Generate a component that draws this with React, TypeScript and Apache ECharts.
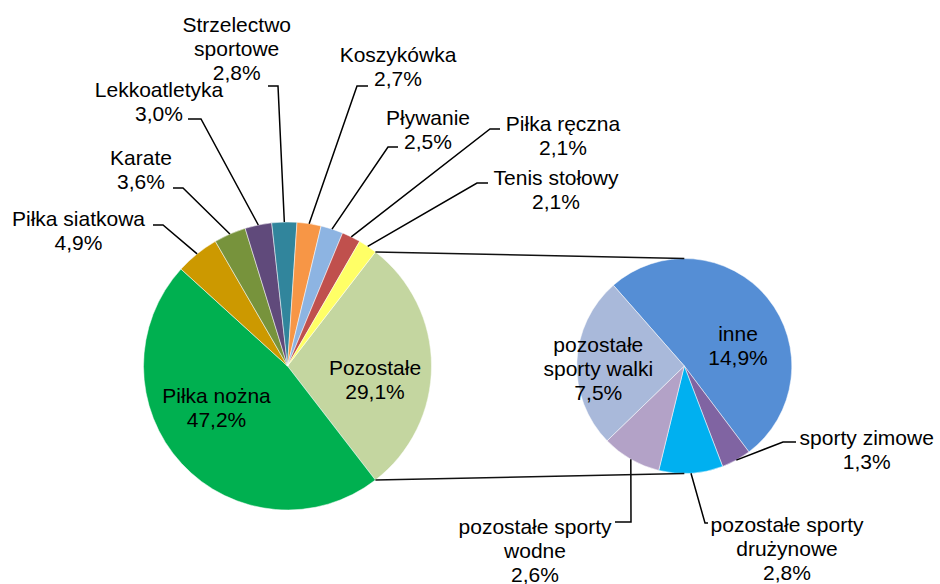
import React, { useEffect, useRef } from "react";
import * as echarts from "echarts";

// ---- data ----
const mainNames = [
  "Pozostałe",
  "Piłka nożna",
  "Piłka siatkowa",
  "Karate",
  "Lekkoatletyka",
  "Strzelectwo sportowe",
  "Koszykówka",
  "Pływanie",
  "Piłka ręczna",
  "Tenis stołowy",
];
const mainValues = [29.1, 47.2, 4.9, 3.6, 3.0, 2.8, 2.7, 2.5, 2.1, 2.1];
const subNames = [
  "inne",
  "sporty zimowe",
  "pozostałe sporty drużynowe",
  "pozostałe sporty wodne",
  "pozostałe sporty walki",
];
const subValues = [14.9, 1.3, 2.8, 2.6, 7.5];

// ---- styles / layout ----
const mainColors = ["#C4D6A0", "#00B050", "#CC9900", "#77933C", "#604A7B", "#31859C", "#F79646", "#8DB4E2", "#C0504D", "#FFFF66"];
const subColors = ["#558ED5", "#8064A2", "#00B0F0", "#B3A2C7", "#A9B9DA"];

const MAIN = { cx: 287.5, cy: 366, r: 144 };
const SUB = { cx: 684.3, cy: 366, r: 107.5, startAngle: 131.3 };
const FONT = "'Liberation Sans', Arial, sans-serif";
const FS = 21;
const LH = 24;

type Lay = { x: number; y: number; wrap?: "first" | "last"; lead?: number[][] };
// label block centres and leader anchor points (label side, elbow)
const mainLayout: Lay[] = [
  { x: 375, y: 379 },
  { x: 216.5, y: 407 },
  { x: 78.5, y: 230, lead: [[153, 225], [163, 225]] },
  { x: 141, y: 169, lead: [[173, 188], [183, 188]] },
  { x: 159, y: 101, lead: [[188, 119], [201, 119]] },
  { x: 236.7, y: 48.5, wrap: "first", lead: [[268, 86], [278, 86]] },
  { x: 398, y: 66.5, lead: [[368, 86], [357, 86]] },
  { x: 428, y: 129, lead: [[398, 147], [388, 147]] },
  { x: 563, y: 135, lead: [[500, 129], [490, 129]] },
  { x: 556, y: 189, lead: [[488, 183], [477, 183]] },
];
const subLayout: Lay[] = [
  { x: 738, y: 345.5 },
  { x: 866.7, y: 449.5, lead: [[796, 442], [783, 442]] },
  { x: 787, y: 548, wrap: "last", lead: [[708, 523], [705, 523]] },
  { x: 535, y: 550, wrap: "last", lead: [[615, 522], [631, 522]] },
  { x: 598.3, y: 368, wrap: "first" },
];

const pct = (v: number) => v.toFixed(1).replace(".", ",") + "%";
const wrapName = (n: string, w?: "first" | "last") => {
  if (!w) return n;
  const i = w === "first" ? n.indexOf(" ") : n.lastIndexOf(" ");
  return n.slice(0, i) + "\n" + n.slice(i + 1);
};

// angle (deg, clockwise from 12 o'clock) helpers
const midAngles = (vals: number[], startAngleEc: number) => {
  const total = vals.reduce((a, b) => a + b, 0);
  const a0 = 90 - startAngleEc;
  let cum = 0;
  return vals.map((v) => {
    const m = a0 + ((cum + v / 2) / total) * 360;
    cum += v;
    return m;
  });
};
const polar = (c: { cx: number; cy: number; r: number }, deg: number): number[] => {
  const t = (deg * Math.PI) / 180;
  return [c.cx + c.r * Math.sin(t), c.cy - c.r * Math.cos(t)];
};

export default function App() {
  const ref = useRef<HTMLDivElement>(null);
  useEffect(() => {
    if (!ref.current) return;
    const chart = echarts.init(ref.current, null, { renderer: "svg" });
    const mainTotal = mainValues.reduce((a, b) => a + b, 0);
    const mainStart = ((mainValues[0] / mainTotal) * 360) / 2;
    const mainMid = midAngles(mainValues, mainStart);
    const subMid = midAngles(subValues, SUB.startAngle);

    const graphics: any[] = [];
    const addLabels = (names: string[], vals: number[], lay: Lay[], mids: number[], c: any) => {
      names.forEach((n, i) => {
        const L = lay[i];
        graphics.push({
          type: "text",
          x: L.x,
          y: L.y,
          z: 100,
          style: {
            text: wrapName(n, L.wrap) + "\n" + pct(vals[i]),
            fill: "#000",
            fontSize: FS,
            fontFamily: FONT,
            align: "center",
            verticalAlign: "middle",
            lineHeight: LH,
          },
        });
        if (L.lead) {
          graphics.push({
            type: "polyline",
            z: 100,
            shape: { points: [L.lead[0], L.lead[1], polar(c, mids[i])] },
            style: { stroke: "#000", lineWidth: 1.5, fill: null },
          });
        }
      });
    };
    addLabels(mainNames, mainValues, mainLayout, mainMid, MAIN);
    addLabels(subNames, subValues, subLayout, subMid, SUB);

    // connector lines between the "Pozostałe" slice and the secondary pie
    const half = ((mainValues[0] / mainTotal) * 360) / 2;
    const pTop = polar(MAIN, 90 - half);
    const pBot = polar(MAIN, 90 + half);
    graphics.push({
      type: "line",
      z: 100,
      shape: { x1: pTop[0], y1: pTop[1], x2: SUB.cx, y2: SUB.cy - SUB.r },
      style: { stroke: "#111", lineWidth: 1.5 },
    });
    graphics.push({
      type: "line",
      z: 100,
      shape: { x1: pBot[0], y1: pBot[1], x2: SUB.cx, y2: SUB.cy + SUB.r },
      style: { stroke: "#111", lineWidth: 1.5 },
    });

    chart.setOption({
      animation: false,
      backgroundColor: "#fff",
      series: [
        {
          type: "pie",
          center: [MAIN.cx, MAIN.cy],
          radius: [0, MAIN.r],
          startAngle: mainStart,
          clockwise: true,
          silent: true,
          label: { show: false },
          labelLine: { show: false },
          itemStyle: { borderColor: "#fff", borderWidth: 0.5 },
          data: mainNames.map((n, i) => ({ name: n, value: mainValues[i], itemStyle: { color: mainColors[i] } })),
        },
        {
          type: "pie",
          center: [SUB.cx, SUB.cy],
          radius: [0, SUB.r],
          startAngle: SUB.startAngle,
          clockwise: true,
          silent: true,
          label: { show: false },
          labelLine: { show: false },
          itemStyle: { borderColor: "#fff", borderWidth: 0.5 },
          data: subNames.map((n, i) => ({ name: n, value: subValues[i], itemStyle: { color: subColors[i] } })),
        },
      ],
      graphic: graphics,
    });
    return () => chart.dispose();
  }, []);
  return <div ref={ref} style={{ position: "absolute", left: 0, top: 0, width: 940, height: 584 }} />;
}
